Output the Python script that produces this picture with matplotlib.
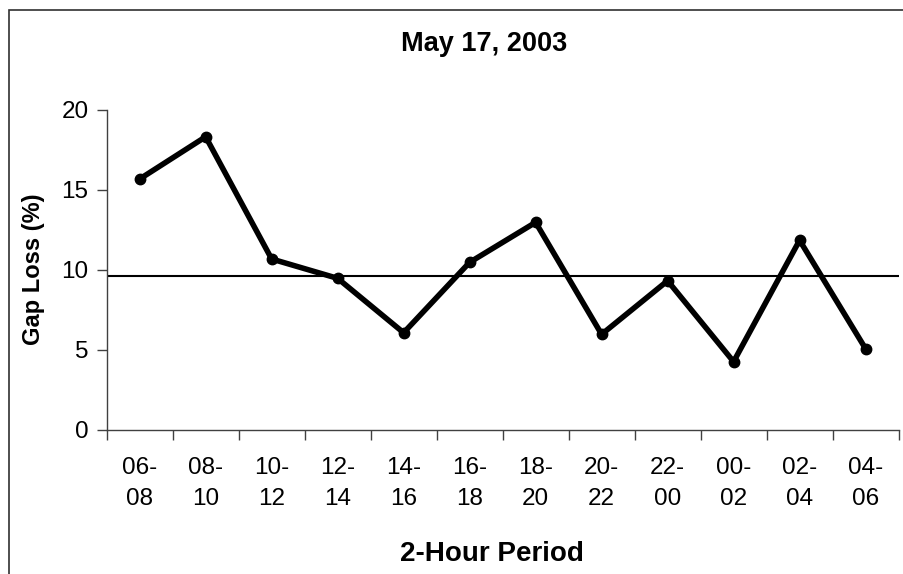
import matplotlib
matplotlib.use('Agg')
import matplotlib.pyplot as plt
from matplotlib.patches import Rectangle
import numpy as np

plt.rcParams['font.family'] = ['Liberation Sans', 'DejaVu Sans']

periods = ['06-\n08', '08-\n10', '10-\n12', '12-\n14', '14-\n16', '16-\n18',
           '18-\n20', '20-\n22', '22-\n00', '00-\n02', '02-\n04', '04-\n06']
gap_loss = [15.66, 18.3, 10.66, 9.45, 6.05, 10.45, 12.95, 5.95, 9.3, 4.24, 11.83, 5.05]
average = 9.6

fig = plt.figure(figsize=(9.04, 5.74), dpi=100)
ax = fig.add_axes([0.118, 0.2517, 0.876, 0.5574])

x = np.arange(len(periods)) + 0.5
ax.plot(x, gap_loss, color='black', lw=4, marker='o', ms=7.5, solid_joinstyle='round')
ax.axhline(average, color='black', lw=1.5)

ax.set_xlim(0, len(periods))
ax.set_ylim(0, 20)
ax.set_yticks([0, 5, 10, 15, 20])
ax.set_xticks(x)
ax.set_xticklabels(periods, linespacing=1.5)
ax.set_xticks(np.arange(len(periods) + 1), minor=True)
ax.tick_params(axis='x', which='major', length=0, pad=20, labelsize=17.5)
ax.tick_params(axis='x', which='minor', length=7, width=1, color='#404040', direction='out')
ax.tick_params(axis='y', length=7, width=1, color='#404040', labelsize=17.5, pad=6)

for s in ['top', 'right']:
    ax.spines[s].set_visible(False)
for s in ['left', 'bottom']:
    ax.spines[s].set_color('#404040')
    ax.spines[s].set_linewidth(1)

ax.set_ylabel('Gap Loss (%)', fontsize=17, fontweight='bold', labelpad=12)
fig.text(484 / 904, 1 - 44 / 574, 'May 17, 2003', ha='center', va='center',
         fontsize=19.5, fontweight='bold')
fig.text(492 / 904, 1 - 554 / 574, '2-Hour Period', ha='center', va='center',
         fontsize=20, fontweight='bold')

fig.patches.append(Rectangle((8.5 / 904, -0.1), 1.2, 1 - 10 / 574 + 0.1,
                             transform=fig.transFigure, fill=False,
                             edgecolor='#303030', lw=1.2))

fig.savefig('out.png', dpi=100)
